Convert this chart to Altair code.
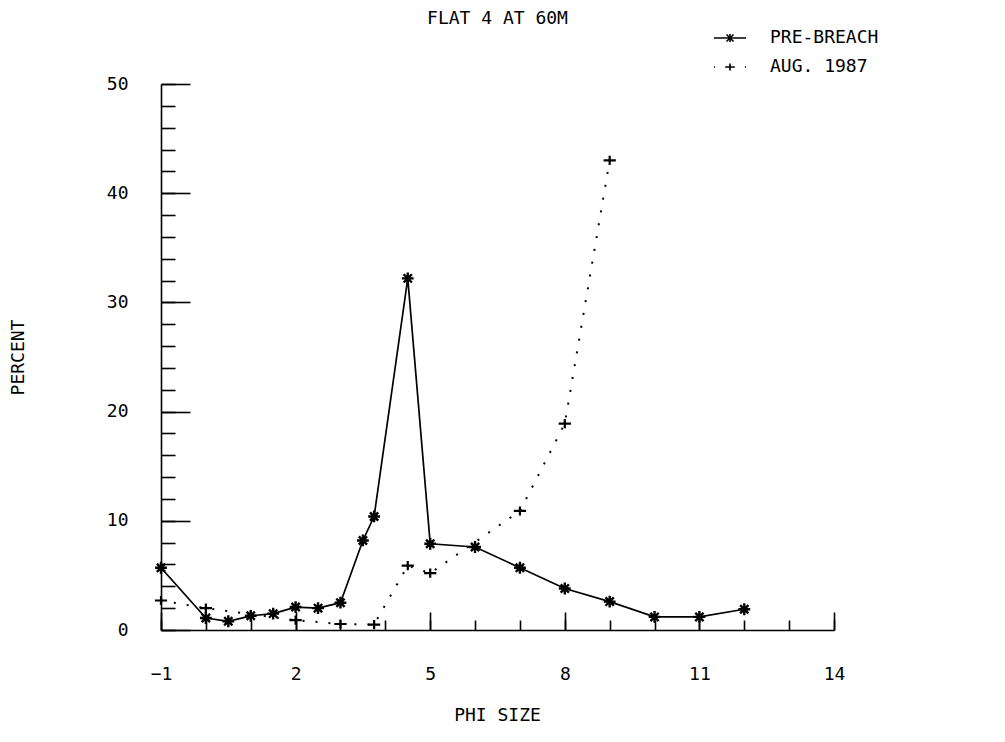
import altair as alt
import pandas as pd

# ---- data ----
chart_title = "FLAT 4 AT 60M"
series_names = ["PRE-BREACH", "AUG. 1987"]
phi_pre = [-1, 0, 0.5, 1, 1.5, 2, 2.5, 3, 3.5, 3.75, 4.5, 5, 6, 7, 8, 9, 10, 11, 12]
pct_pre = [5.7, 1.1, 0.8, 1.3, 1.5, 2.1, 2.0, 2.5, 8.2, 10.4, 32.2, 7.9, 7.6, 5.7, 3.8, 2.6, 1.2, 1.2, 1.9]
phi_aug = [-1, 0, 2, 3, 3.75, 4.5, 5, 7, 8, 9]
pct_aug = [2.7, 2.0, 0.9, 0.55, 0.5, 5.9, 5.2, 10.9, 18.9, 43.0]

x_label_values = [-1, 2, 5, 8, 11, 14]
x_tick_values = list(range(-1, 15))
y_label_values = [0, 10, 20, 30, 40, 50]
y_minor_values = list(range(0, 51, 2))

pre = pd.DataFrame({"phi": phi_pre, "pct": pct_pre, "series": series_names[0]})
aug = pd.DataFrame({"phi": phi_aug, "pct": pct_aug, "series": series_names[1]})
both = pd.concat([pre, aug], ignore_index=True)

FONT = "DejaVu Sans Mono"
W, H = 673, 546

xs = alt.Scale(domain=[-1, 14], nice=False, zero=False)
ys = alt.Scale(domain=[0, 50], nice=False, zero=False)

ASTERISK = "M-1,0L1,0M0,-1L0,1M-0.7,-0.7L0.7,0.7M-0.7,0.7L0.7,-0.7"
PLUS = "M-1,0L1,0M0,-0.75L0,0.75"
LEG_PRE = "M-1,0L1,0M-0.22,-0.22L0.22,0.22M-0.22,0.22L0.22,-0.22M0,-0.25L0,0.25"
LEG_AUG = "M-1,0L-0.93,0M0.93,0L1,0M-0.3,0L0.3,0M0,-0.22L0,0.22"

# main axes: labels + domain line, no ticks
x_main = alt.Axis(orient="bottom", values=x_label_values, ticks=False, tickSize=0,
                  labelPadding=35, labelFont=FONT, labelFontSize=18, labelColor="black",
                  labelFlush=False, labelOverlap=False,
                  domainColor="black", domainWidth=1.6, grid=False,
                  title="PHI SIZE", titleFont=FONT, titleFontSize=18, titleFontWeight="normal",
                  titleColor="black", titleX=336, titleY=85, titleAlign="center",
                  titleBaseline="middle")
y_main = alt.Axis(orient="left", values=y_label_values, ticks=False, tickSize=0,
                  labelPadding=33, labelFont=FONT, labelFontSize=18, labelColor="black",
                  labelFlush=False, labelOverlap=False,
                  domainColor="black", domainWidth=1.6, grid=False,
                  title="PERCENT", titleFont=FONT, titleFontSize=18, titleFontWeight="normal",
                  titleColor="black", titleAngle=270, titleX=-143, titleY=273,
                  titleAlign="center", titleBaseline="middle")

# inward ticks drawn by axes placed on the opposite side and pulled in with offset;
# the top one also carries the chart heading
x_major = alt.Axis(orient="top", offset=-H, values=x_label_values, labels=False, domain=False,
                   tickSize=18, tickColor="black", tickWidth=1.6, grid=False,
                   title=chart_title, titleFont=FONT, titleFontSize=18, titleFontWeight="normal",
                   titleColor="black", titleX=336, titleY=-(H + 66), titleAlign="center",
                   titleBaseline="middle")
x_minor = alt.Axis(orient="top", offset=-H, values=x_tick_values, labels=False, domain=False,
                   tickSize=10, tickColor="black", tickWidth=1.6, grid=False, title=None)
y_major = alt.Axis(orient="right", offset=-W, values=y_label_values, labels=False, domain=False,
                   tickSize=29, tickColor="black", tickWidth=1.6, grid=False, title=None)
y_minor = alt.Axis(orient="right", offset=-W, values=y_minor_values, labels=False, domain=False,
                   tickSize=14, tickColor="black", tickWidth=1.6, grid=False, title=None)

pre_line = alt.Chart(pre).mark_line(color="black", strokeWidth=1.7).encode(
    x=alt.X("phi:Q", scale=xs, axis=x_main),
    y=alt.Y("pct:Q", scale=ys, axis=y_main),
)
aug_line = alt.Chart(aug).mark_line(color="black", strokeWidth=2, strokeDash=[2, 11]).encode(
    x=alt.X("phi:Q", scale=xs, axis=x_major),
    y=alt.Y("pct:Q", scale=ys, axis=y_major),
)
pre_pts = alt.Chart(pre).mark_point(shape=ASTERISK, size=140, filled=False, color="black",
                                    strokeWidth=2.4, opacity=1).encode(
    x=alt.X("phi:Q", scale=xs, axis=x_minor),
    y=alt.Y("pct:Q", scale=ys, axis=y_minor),
)
aug_pts = alt.Chart(aug).mark_point(shape=PLUS, size=150, filled=False, color="black",
                                    strokeWidth=2.2, opacity=1).encode(
    x=alt.X("phi:Q", scale=xs, axis=None),
    y=alt.Y("pct:Q", scale=ys, axis=None),
)
legend_layer = alt.Chart(both).transform_filter("false").mark_point(
    filled=False, color="black", strokeWidth=1.6, size=1024, opacity=1
).encode(
    x=alt.X("phi:Q", scale=xs, axis=None),
    y=alt.Y("pct:Q", scale=ys, axis=None),
    shape=alt.Shape("series:N",
                    scale=alt.Scale(domain=series_names, range=[LEG_PRE, LEG_AUG]),
                    legend=alt.Legend(orient="none", legendX=552, legendY=-63, title=None,
                                      symbolSize=1024, symbolStrokeWidth=1.6,
                                      symbolStrokeColor="black", labelFont=FONT,
                                      labelFontSize=18, labelColor="black", labelOffset=23,
                                      rowPadding=3, padding=0, labelLimit=400)),
)

chart = alt.layer(pre_line, aug_line, pre_pts, aug_pts, legend_layer).resolve_axis(
    x="independent", y="independent"
).properties(
    width=W, height=H,
    padding={"left": 153, "top": 76, "right": 163, "bottom": 104},
    autosize=alt.AutoSizeParams(type="none"),
    background="white",
).configure_view(stroke=None)

chart.save("out.html", embed_options={"renderer": "svg", "actions": False})
